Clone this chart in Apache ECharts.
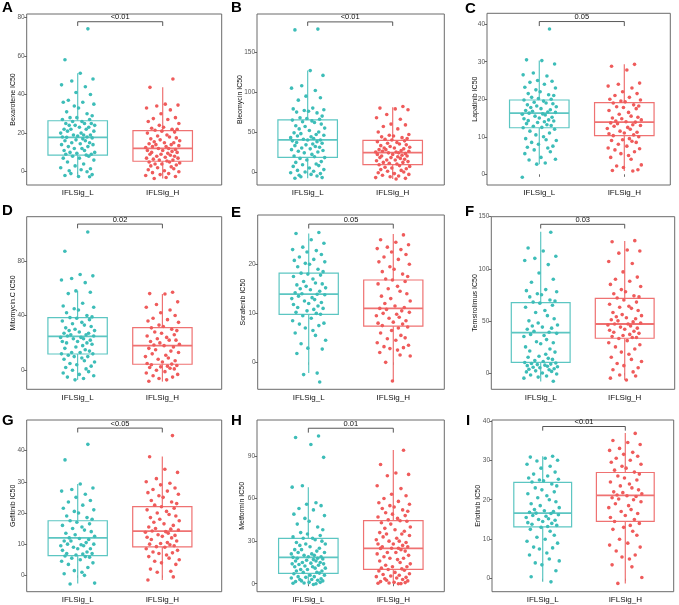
<!DOCTYPE html>
<html><head><meta charset="utf-8">
<script src="https://cdn.jsdelivr.net/npm/echarts@6/dist/echarts.min.js"></script>
<style>html,body{margin:0;padding:0;background:#fff}#c{width:679px;height:605px}</style>
</head><body><div id="c"></div>
<script>
// ---------------- DATA ----------------
const categories = ['IFLSig_L', 'IFLSig_H'];
const panelLetters = ['A','B','C','D','E','F','G','H','I'];
const drugNames = ['Bexarotene IC50','Bleomycin IC50','Lapatinib IC50','Mitomycin.C IC50','Sorafenib IC50','Temsirolimus IC50','Gefitinib IC50','Metformin IC50','Erlotinib IC50'];
const pLabels = ['<0.01','<0.01','0.05','0.02','0.05','0.03','<0.05','0.01','<0.01'];
const yTicks = [[0,20,40,60,80],[0,50,100,150],[0,10,20,30,40],[0,40,80],[0,10,20],[0,50,100,150],[0,10,20,30,40],[0,30,60,90],[0,10,20,30,40]];
// box stats [lower whisker, Q1, median, Q3, upper whisker]
const boxL = [[-2.6,8.6,17.8,26.4,51],[-7.9,18.4,40.1,65.2,127],[2.7,12.4,16.3,19.8,30.3],[-7,11.9,24.8,38.4,58.1],[-2.2,9.8,13.9,18.2,26.3],[-8.3,10.2,38.7,67.5,135.6],[-2.6,6.3,12,17.5,29.3],[-0.5,7.3,18.6,32,67.9],[-0.8,13.1,16.6,24.4,31]];
const boxH = [[-3.5,5.4,12.1,21.3,43.7],[-8.8,9.2,24.2,39.7,81],[0.9,10.3,13.9,19.1,29.3],[-8.3,4.4,18,31.1,55.7],[-3.8,7.4,11,16.8,26.2],[-6.7,33.3,47,71.6,126.6],[-1.5,9.1,14.2,22,38.1],[0,10.1,24.9,44.4,94.2],[-1.2,14.5,21.1,26.9,36.9]];
// significance bracket [bar height, tip end]
const bracket = [[77.7,75.5],[188,183],[40.7,39.5],[106.8,103.7],[28.2,27.3],[142.7,138.7],[47.2,45.8],[109.5,106.4],[38.55,37.5]];
// horizontal jitter offsets (category units)
const jitter = [0.12,-0.15,0.03,0.18,-0.07,-0.19,0.09,-0.02,0.15,-0.11,
0.06,-0.17,0.19,-0.04,0.01,-0.13,0.11,0.17,-0.09,-0.01,
0.14,-0.18,0.05,-0.06,0.08,0.16,-0.14,-0.03,0.2,-0.1,
0.02,0.13,-0.16,-0.08,0.1,0.19,-0.12,0.04,-0.2,0.07,
-0.05,0.15,0.0,-0.18,0.11,-0.13,0.17,0.06,-0.02,-0.15,
0.09,0.14,-0.07,0.03,-0.19,0.18,-0.11,0.12,-0.04,0.05,
-0.16,0.08,0.2,-0.09,-0.01,0.16,-0.14,0.1,-0.06,0.13,
-0.17,0.02,0.19,-0.12,0.07,-0.03,-0.2,0.15,0.04,-0.1,
0.11,-0.08,0.17,-0.15,0.01,0.14,-0.05,-0.18,0.09,0.06,
-0.13,0.18,-0.02,0.12,-0.11,0.03,-0.16,0.1,-0.07,0.16];

const bexL = [74,58,51,48,47,45,44,41,40,37,36,36,35,34,33,31,30,29,28,28,27,27,26,26,25,25,25,24,24,24,23,23,22,22,22,21,21,20,20,19,19,19,18.5,18,18,17.8,17.5,17,16.5,16,16,15,15,14.5,14,14,13,13,12,12,11,11,10,10,9.5,9,9,8.6,8,8,7,7,6,5,4,3,2,1.5,1,0.5,0,-1,-1.5,-2,-2.5,-2.6];
const bexH = [48,43.7,35,34.5,34,33,32,30,28,27.5,27,26,25,24,23,22.5,22,22,21.5,21,20.5,20,19,18.5,18,17.5,17,16.5,16,15.5,15,15,14.5,14,14,13.5,13,13,12.5,12,12,11.5,11,11,10.5,10,10,9.5,9,9,8.5,8,8,7.5,7,7,6.5,6,6,5.5,5,5,4.5,4,4,3.5,3,2.5,2,1.5,1,0.5,0,-0.5,-1,-1.5,-2,-2.5,-3,-3.5];
const bleoL = [179,178,127,121,108,105,102,95,93,90,80,79,78,77,76,75,74,70,68,67,66,65,64,63,62,60,58,57,55,54,52,50,49,48,47,46,45,44,43,42,41,40,40,39,38,37,36,35,34,33,32,31,30,29,28,27,26,25,24,22,20,19,18,17,15,13,12,10,9,8,7,5,3,2,1,0,-1,-2,-3,-4,-5,-6,-7,-7.9];
const bleoH = [82,80,79,78,72,68,66,60,59,57,54,50,47,46,45,44,43,42,41,40,39,38,37,36,35,34,33,32,31,30,30,29,28,28,27,26,26,25,25,24,24,23,22,22,21,20,20,19,18,18,17,16,15,15,14,13,12,12,11,10,9,8,7,6,5,4,3,2,1,0,-1,-2,-3,-4,-5,-6,-7,-8,-8.8];
const lapL = [38.7,30.5,30.3,29.4,27,26.5,26.2,25,24.8,24.5,24,23.2,23,22.5,22,21.5,21.2,21,20.5,20.2,20,19.8,19.5,19.2,19,18.8,18.5,18.2,18,17.8,17.5,17.2,17,16.8,16.6,16.5,16.3,16.1,16,15.8,15.5,15.2,15,14.8,14.5,14.3,14.2,14,13.8,13.5,13.2,13,12.8,12.5,12.4,12,11.5,11,10.5,10,9.5,9.2,9,8.5,8,7.5,7.2,7,6.5,6,5.5,4.5,4,3.8,3,2.7,-0.8];
const lapH = [29.3,28.8,27.8,24.3,24,23.5,23,22,21.5,21,20.5,20,19.8,19.5,19.3,19,18.5,18.2,18,17.8,17.5,17,16.5,16,15.5,15.2,15,14.8,14.5,14.2,14,13.9,13.7,13.5,13.2,13,12.8,12.5,12.2,12,11.5,11.2,11,10.8,10.5,10.3,10,9.5,9.2,9,8.8,8.5,8,7.5,7,6.8,6.5,6,5.5,5,4.5,4,2.5,2.2,1.8,1.2,1,0.9];
const mitoL = [101,87,70,69,67,66,64,58,57,56,49,47,46,45,44,42,40,39,38.5,38,37,36,35,34,33,32,31,30,29,29,28,27,27,26,26,25,25,24,24,23,23,22,21,21,20,20,19,18,17,16,15,14,13,13,12,12,11,10,10,9,8,7,6,5,4,3,2,1,0,-1,-2,-3,-4,-5,-6,-7];
const mitoH = [57,56,55.7,50,48,46,44,42,40,38,37,36,35,33,32,31,30,29,28,27,26,25,24,23,22,22,21,20,19,18.5,18,17,16,15,14,13,12,11,10,9,8,7,6,5,4.5,4,3.5,3,2.5,2,1.5,1,0,-1,-2,-3,-4,-5,-6,-7,-8];
const soraL = [26.5,26.3,25,24.3,23.5,23,22.8,22.5,22,21.5,21,20.8,20.5,20.2,20,19.5,19,18.5,18.2,18,17.8,17.5,17,16.5,16.2,16,15.8,15.5,15.2,15,14.8,14.5,14.2,14,13.9,13.8,13.5,13.2,13,12.8,12.5,12.2,12,11.8,11.5,11.2,11,10.8,10.5,10.2,10,9.8,9.5,9,8.5,8,7.8,7.5,7,6.5,6,5.5,4.5,3.8,2.9,2.7,1.8,-2.2,-2.5,-4];
const soraH = [26,25,24.5,24,23.5,23.2,23,22.5,22,21.5,21,20.5,20,19.5,19,18.5,18,17.5,17,16.8,16.5,16,15.5,15,14.5,14,13.5,13,12.5,12,11.5,11.2,11,10.8,10.5,10.2,10,9.8,9.5,9.2,9,8.5,8.2,8,7.8,7.5,7.2,7,6.5,6,5.5,5,4.8,4.5,4,3.5,3.2,3,2.8,2.5,2,1.5,1.3,0,-3.8];
const temsL = [135,120,117,112,110,108,104,96,90,87,80,79,78,76,75,73,70,69,68,67,65,63,60,58,55,52,50,48,46,45,44,43,42,40,39,38,37,36,35,32,30,29,28,25,23,21,20,18,16,15,14,13,12,11,10,9.5,9,8.5,8,7.5,7,6.5,6,5.5,5,4,3.5,3,2,1.5,1,0,-1,-2,-3,-4,-5,-8];
const temsH = [127,126,118,117,115,107,105,97,92,90,88,85,83,80,78,76,74,73,72,70,68,66,64,63,62,60,58,56,55,54,53,52,51,50,49,48,47,47,46,45,44,43,42,41,40,39,38,37,36,35,34,34,33,31,29,27,25,23,20,18,15,13,11,9,7,5,3,1,-2,-3,-5,-6.7];
const gefL = [42,37,29.3,28,27.5,27,26,25,24,23.5,22.5,21.5,21,20.5,20,19,18.5,18,17.5,17,16.5,16,15.5,15,14.5,14,13.5,13,12.5,12,11.8,11.5,11,11,10.5,10,10,9.8,9.5,9.5,9,8.5,8.5,8,7.5,7,7,6.8,6.5,6.2,6,5.8,5.5,5,4.5,4,3.5,2.5,1.5,1,0.5,0,-2.5,-2.8];
const gefH = [44.8,38,34,33,31,30,29.5,29,28,27.5,27,26.5,26,25.5,25,24,23.5,23,22.5,22,21.5,21,20.5,20,19.5,19,18.5,18,17.5,17,16.5,16,15.5,15,14.8,14.5,14.2,14,13.8,13.5,13,12.8,12.5,12.2,12,11.5,11,10.5,10.2,10,9.8,9.5,9.2,9,8.5,8,7.5,7.2,7,6.5,6,5.5,5,4.5,4,3.5,2,1.3,1,-0.5,-1.5];
const metL = [104,103,98,89,69,68,57,56,55,53,52,49,48,46,44,42,40,38,36,35,34,33,32,32,31,30,29,28,28,27,26,25,24,24,23,22,22,21,21,20,20,19,19,18.6,18,18,17.5,17,16.5,16,16,15,15,14.5,14,14,13.5,13,12.5,12,12,11,11,10,10,9,9,8,8,7.5,7,6,6,5,5,4.5,4,3.5,3,3,2.5,2,2,1.5,1,1,0.5,0.3,0,-0.5];
const metH = [94,84,78,77,76,69,67,63,62,60,58,57,56,55,54,53,52,51,50,49,48,47,46,45,44.4,44,43,42,40,39,38,37,36,35,35,34,33,32,31,30,30,29,28,28,27,26,26,25,25,24.9,24,23,22,22,21,20,19,18,18,17,16,15,14,13,12,12,11,10.5,10,9.5,9,8,7,6.5,6,5.5,5,4.5,4,3.5,3,2.5,2,1.5,1,0.8,0.5,0.3,0.1,0];
const erlL = [31,30.8,30.5,30,29.8,29,28.5,28,27,26.5,26,25.5,25.2,25,24.8,24.5,24,23.5,23,22.5,22,21.5,21,20.5,20,19.5,19,18.5,18,17.5,17.2,17,16.8,16.6,16.5,16.2,16,15.8,15.5,15.2,15,14.8,14.5,14.2,14,13.8,13.5,13.2,13,12.5,12,11,10.5,10,9.5,9,8,7.8,7.5,6.5,6,5,4.5,4,3.5,2,0.5,-0.8];
const erlH = [36.8,35,34.5,34,33,32.5,32,31.5,31,30.5,30,29.5,29,28.5,28,27.5,27,26.5,26,25.5,25,24.5,24,23.5,23,22.5,22,21.8,21.5,21.2,21,20.8,20.5,20.2,20,19.5,19,18.5,18,17.5,17,16.5,16,15.5,15,14.5,14,13.5,13,12.5,12,11,10,9,8.5,8,7,6,5.5,5,3.5,3,0.3,-1.2];

const pointsL = [bexL, bleoL, lapL, mitoL, soraL, temsL, gefL, metL, erlL];
const pointsH = [bexH, bleoH, lapH, mitoH, soraH, temsH, gefH, metH, erlH];

// ---------------- LAYOUT / STYLE ----------------
const layout = [
  {g:[26.7,14,195,171],   x:[0.4,2.694],  y:[-6.9,81.7],   gap:10,   letter:[2,8]},
  {g:[257,14,187.3,171],  x:[0.404,2.607],y:[-16.3,197.9], gap:13.5, letter:[231,8.3]},
  {g:[487,13.3,183.3,171.7],x:[0.385,2.541],y:[-2.85,42.9],gap:8,    letter:[465,8.5]},
  {g:[26.7,216.7,195,172.6],x:[0.4,2.699],y:[-13.9,112.2], gap:10,   letter:[2,211]},
  {g:[257.7,215,186.6,174.3],x:[0.397,2.603],y:[-5.5,30.06],gap:11.5,letter:[231,212.5]},
  {g:[491.3,216.7,183.4,172.6],x:[0.412,2.595],y:[-15.7,150],gap:12.5,letter:[465,211.5]},
  {g:[26.7,420,195,171.7],x:[0.397,2.702],y:[-5.25,49.8],  gap:10,   letter:[2,421]},
  {g:[257,420,187.3,171.7],x:[0.396,2.6], y:[-5.6,115.3],  gap:11,   letter:[231,421]},
  {g:[492,420,181.7,171.7],x:[0.386,2.586],y:[-3.3,40.2],  gap:10,   letter:[466,421]}
];
const FONT = '"Liberation Sans", Arial, sans-serif';
const pointColor = ['#3dbdb8', '#ef5b5b'];
const boxColor = ['#5cc6c2', '#ef7272'];
const BOX_HALF = 0.35;

const grids = [], xAxes = [], yAxes = [], series = [], graphics = [];
layout.forEach((L, i) => {
  grids.push({left:L.g[0], top:L.g[1], width:L.g[2], height:L.g[3], show:true, borderColor:'#6b6b6b', borderWidth:1, backgroundColor:'transparent'});
  xAxes.push({type:'value', gridIndex:i, min:L.x[0], max:L.x[1],
    axisLine:{show:false}, splitLine:{show:false},
    axisTick:{show:true, customValues:[1,2], length:2.5, lineStyle:{color:'#444', width:0.8}},
    axisLabel:{customValues:[1,2], formatter:v => categories[Math.round(v)-1], fontSize:8, color:'#111', fontFamily:FONT, margin:4}});
  yAxes.push({type:'value', gridIndex:i, min:L.y[0], max:L.y[1],
    name:drugNames[i], nameLocation:'middle', nameRotate:90, nameGap:L.gap, nameMoveOverlap:false,
    nameTextStyle:{fontSize:7, color:'#111', fontFamily:FONT},
    axisLine:{show:false}, splitLine:{show:false},
    axisTick:{show:true, customValues:yTicks[i], length:2.5, lineStyle:{color:'#444', width:0.8}},
    axisLabel:{customValues:yTicks[i], fontSize:6.5, color:'#555', fontFamily:FONT, margin:2}});

  // boxes
  series.push({type:'custom', xAxisIndex:i, yAxisIndex:i, silent:true,
    data:[[1].concat(boxL[i],[0]), [2].concat(boxH[i],[1])],
    encode:{x:0, y:[1,2,3,4,5]},
    renderItem:(params, api) => {
      const x = api.value(0), mn = api.value(1), q1 = api.value(2), md = api.value(3), q3 = api.value(4), mx = api.value(5);
      const c = boxColor[api.value(6)];
      const tl = api.coord([x - BOX_HALF, q3]), br = api.coord([x + BOX_HALF, q1]);
      const m1 = api.coord([x - BOX_HALF, md]), m2 = api.coord([x + BOX_HALF, md]);
      const wt = api.coord([x, mx]), a3 = api.coord([x, q3]), a1 = api.coord([x, q1]), wb = api.coord([x, mn]);
      const st = {stroke:c, lineWidth:1.2, fill:'none'};
      return {type:'group', children:[
        {type:'line', shape:{x1:wt[0],y1:wt[1],x2:a3[0],y2:a3[1]}, style:st},
        {type:'line', shape:{x1:a1[0],y1:a1[1],x2:wb[0],y2:wb[1]}, style:st},
        {type:'rect', shape:{x:tl[0],y:tl[1],width:br[0]-tl[0],height:br[1]-tl[1]}, style:st},
        {type:'line', shape:{x1:m1[0],y1:m1[1],x2:m2[0],y2:m2[1]}, style:{stroke:c, lineWidth:1.8}}
      ]};
    }});
  // points
  [pointsL[i], pointsH[i]].forEach((arr, k) => {
    series.push({type:'scatter', xAxisIndex:i, yAxisIndex:i, silent:true,
      symbolSize:3.6, itemStyle:{color:pointColor[k], opacity:1},
      data:arr.map((v, j) => [k + 1 + jitter[j], v])});
  });
  // bracket
  series.push({type:'custom', xAxisIndex:i, yAxisIndex:i, silent:true, clip:false,
    data:[[1, 2, bracket[i][0], bracket[i][1]]],
    encode:{x:[0,1], y:[2,3]},
    renderItem:(params, api) => {
      const x1 = api.value(0), x2 = api.value(1), b = api.value(2), t = api.value(3);
      const p1 = api.coord([x1, t]), p2 = api.coord([x1, b]), p3 = api.coord([x2, b]), p4 = api.coord([x2, t]);
      return {type:'group', children:[
        {type:'polyline', shape:{points:[p1,p2,p3,p4]}, style:{stroke:'#444', lineWidth:0.9, fill:'none'}},
        {type:'text', x:(p2[0]+p3[0])/2, y:p2[1]-0.5, style:{text:pLabels[i], fill:'#111', font:'7.5px ' + FONT, align:'center', verticalAlign:'bottom'}}
      ]};
    }});
  graphics.push({type:'text', x:L.letter[0], y:L.letter[1], style:{text:panelLetters[i], fill:'#000', font:'bold 15px ' + FONT, verticalAlign:'middle'}});
});

const chart = echarts.init(document.getElementById('c'), null, {renderer:'canvas'});
chart.setOption({animation:false, backgroundColor:'#fff', grid:grids, xAxis:xAxes, yAxis:yAxes, series:series, graphic:graphics});
</script></body></html>
